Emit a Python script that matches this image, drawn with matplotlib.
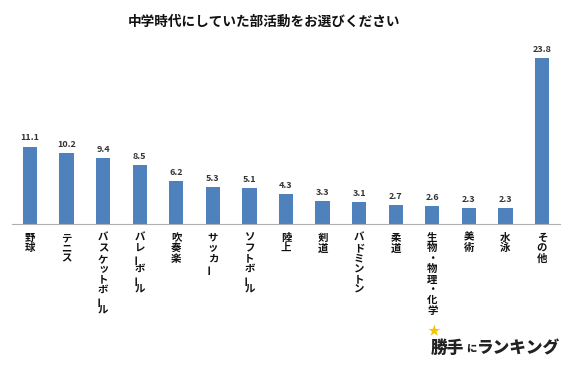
import matplotlib
matplotlib.use("Agg")
import matplotlib.pyplot as plt

plt.rcParams['font.family'] = ['Noto Sans CJK JP', 'DejaVu Sans']

# データ
categories = ["野球", "テニス", "バスケットボール", "バレーボール", "吹奏楽", "サッカー",
              "ソフトボール", "陸上", "剣道", "バドミントン", "柔道", "生物・物理・化学",
              "美術", "水泳", "その他"]
values = [11.1, 10.2, 9.4, 8.5, 6.2, 5.3, 5.1, 4.3, 3.3, 3.1, 2.7, 2.6, 2.3, 2.3, 23.8]
title = "中学時代にしていた部活動をお選びください"

fig = plt.figure(figsize=(5.8, 3.69), dpi=100)
ax = fig.add_axes([0, 145 / 369, 1, (26 / 23.8) * 166 / 369])

x = list(range(len(categories)))
ax.bar(x, values, width=0.39, color="#4F81BD")
ax.set_xlim(-30 / 36.57, 14 + 38 / 36.57)
ax.set_ylim(0, 26)

for s in ["top", "left", "right"]:
    ax.spines[s].set_visible(False)
ax.spines["bottom"].set_color("#B0B0B0")
ax.spines["bottom"].set_bounds(-0.5, 14.5)
ax.set_xticks([])
ax.set_yticks([])

# 値ラベル
for i, v in zip(x, values):
    ax.annotate(f"{v}", xy=(i, v), xytext=(0, 3), textcoords="offset points",
                ha="center", va="bottom", fontsize=6.5, fontweight="bold", color="#333333")

# 縦書きのカテゴリ名（1文字ずつ、長音は縦向き）
for i, name in zip(x, categories):
    for k, ch in enumerate(name):
        dx = -2 if ch == "ー" else 0
        ax.annotate(ch, xy=(i, 0), xytext=(dx, -10 - k * 7.5), textcoords="offset points",
                    ha="center", va="center", fontsize=7.5, fontweight="bold",
                    rotation=90 if ch == "ー" else 0, color="#111111")

fig.text(264 / 580, 1 - 22 / 369, title, ha="center", va="center",
         fontsize=9.8, fontweight="bold", color="#111111")

# ロゴ
fig.text(431 / 580, 1 - 348 / 369, "勝手", ha="left", va="center",
         fontsize=12, fontweight="heavy", color="#222222")
fig.text(466 / 580, 1 - 350 / 369, "に", ha="left", va="center",
         fontsize=7.5, fontweight="heavy", color="#222222")
fig.text(477 / 580, 1 - 348 / 369, "ランキング", ha="left", va="center",
         fontsize=12, fontweight="heavy", color="#222222")
fig.text(434 / 580, 1 - 332 / 369, "★", ha="center", va="center",
         fontsize=9, color="#F5C400")

plt.savefig("out.png", dpi=100)
